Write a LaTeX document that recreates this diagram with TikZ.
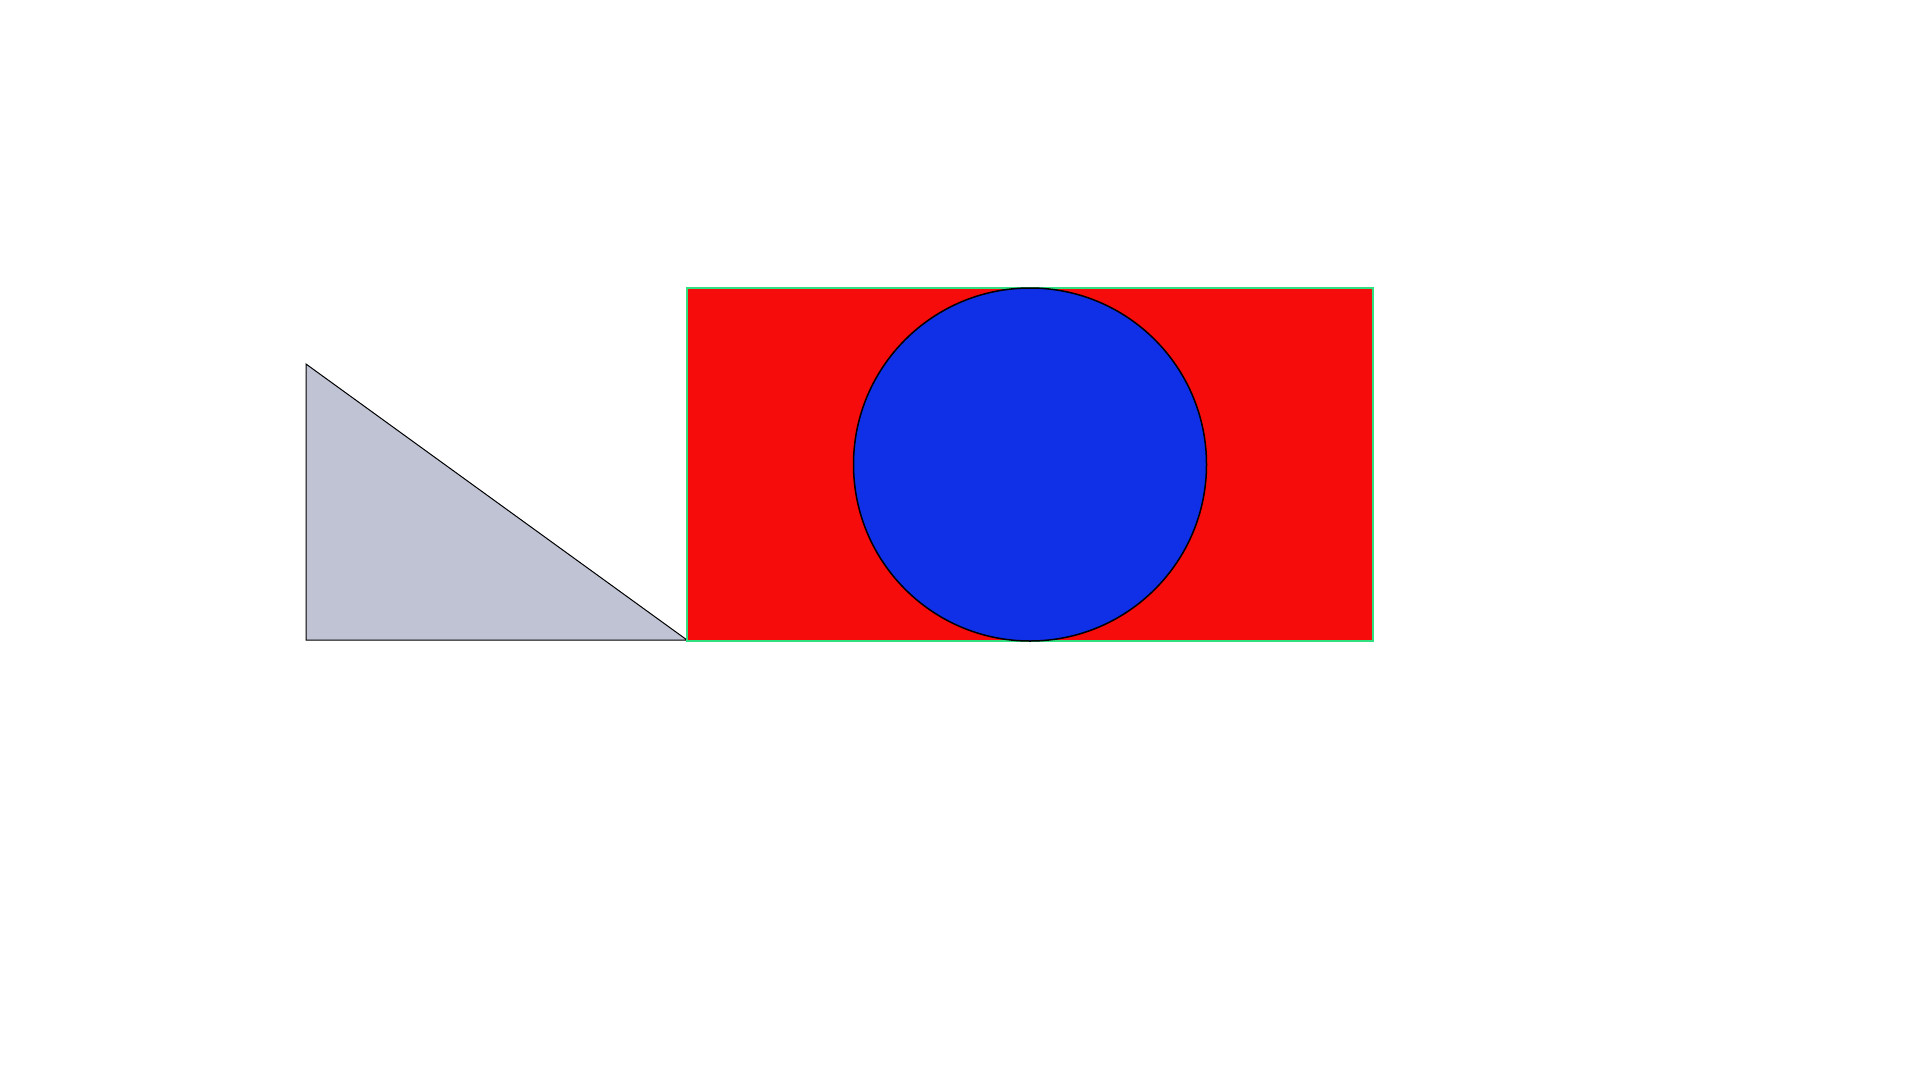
\documentclass[tikz,border=0pt]{standalone}
\usetikzlibrary{calc}
\definecolor{trigray}{HTML}{BFC3D4}
\definecolor{boxred}{HTML}{F70C0C}
\definecolor{ballblue}{HTML}{1030E8}
\definecolor{edgegreen}{HTML}{30E080}
\tikzset{
  tri/.style={fill=trigray,draw=black,line width=1pt,line join=miter},
  box/.style={fill=boxred,draw=edgegreen,line width=1.5pt},
  ball/.style={fill=ballblue,draw=black,line width=1.5pt},
}
\begin{document}
\begin{tikzpicture}[x=1pt,y=-1pt]
\useasboundingbox[fill=white] (0,0) rectangle (1920,1080);
\coordinate (tA) at (306,364);
\coordinate (tB) at (306,640);
\coordinate (tC) at (687,640);
\draw[tri] (tA) -- (tB) -- (tC) -- cycle;
\draw[box] (687,288) rectangle (1373,641);
\draw[ball] (1030,464.5) circle (176.5);
\end{tikzpicture}
\end{document}
